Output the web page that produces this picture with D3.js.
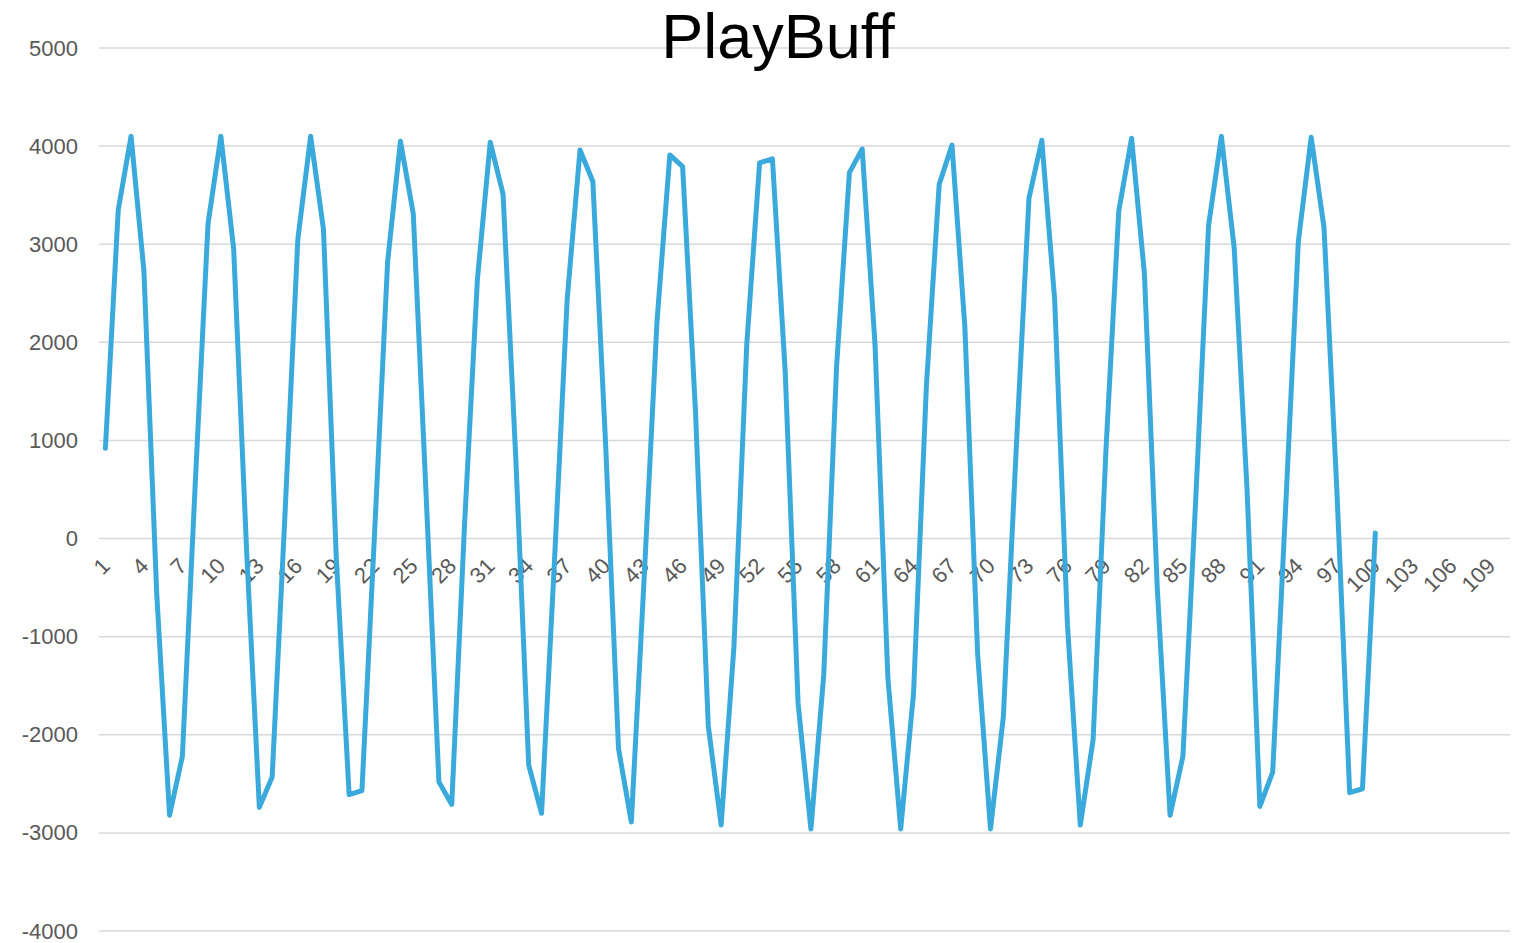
<!DOCTYPE html>
<html>
<head>
<meta charset="utf-8">
<script src="https://cdn.jsdelivr.net/npm/d3@7/dist/d3.min.js"></script>
<style>
  html, body { margin: 0; padding: 0; background: #ffffff; }
  svg { display: block; }
</style>
</head>
<body>
<svg id="chart" width="1522" height="943"></svg>
<script>
const chartTitle = "PlayBuff";
const categories = d3.range(1, 111);
const seriesValues = [
  920, 3350, 4100, 2730, -560, -2820, -2220, 550, 3210, 4100,
  2950, -100, -2740, -2430, 250, 3050, 4100, 3150, -200, -2610,
  -2570, 100, 2820, 4050, 3310, 450, -2480, -2710, 150, 2640,
  4040, 3510, 800, -2310, -2800, -250, 2440, 3960, 3640, 950,
  -2140, -2890, -400, 2210, 3910, 3790, 1300, -1910, -2920, -1100,
  1980, 3830, 3870, 1690, -1680, -2960, -1390, 1750, 3730, 3970,
  1970, -1420, -2960, -1580, 1550, 3610, 4010, 2160, -1180, -2960,
  -1820, 900, 3470, 4060, 2440, -880, -2920, -2050, 900, 3340,
  4080, 2700, -500, -2820, -2220, 400, 3190, 4100, 2960, 500,
  -2730, -2380, 290, 3030, 4090, 3170, 500, -2590, -2550, 56
];
const yTicks = [-4000, -3000, -2000, -1000, 0, 1000, 2000, 3000, 4000, 5000];
const xTickLabels = categories.filter((c, i) => i % 3 === 0);

const svg = d3.select("#chart");
const plotLeft = 99, plotRight = 1510, plotTop = 48, plotBottom = 931;

const x = d3.scaleBand().domain(categories).range([plotLeft, plotRight]).padding(0);
const y = d3.scaleLinear().domain([-4000, 5000]).range([plotBottom, plotTop]);
const cx = c => x(c) + x.bandwidth() / 2;

// gridlines
svg.append("g")
  .selectAll("line")
  .data(yTicks)
  .join("line")
  .attr("x1", plotLeft).attr("x2", plotRight)
  .attr("y1", d => y(d)).attr("y2", d => y(d))
  .attr("stroke", "#d9d9d9").attr("stroke-width", 1.5);

// y axis labels
const yAxis = d3.axisLeft(y).tickValues(yTicks).tickSize(0).tickPadding(0)
  .tickFormat(d => String(d));
const gy = svg.append("g").attr("transform", `translate(78,0)`).call(yAxis);
gy.select(".domain").remove();
gy.selectAll("text")
  .attr("fill", "#595959")
  .style("font-family", "Liberation Sans, Arial, sans-serif")
  .style("font-size", "22px");

// x axis labels (rotated)
svg.append("g")
  .selectAll("text")
  .data(xTickLabels)
  .join("text")
  .attr("transform", d => `translate(${cx(d) - 5},${y(0) + 18}) rotate(-45)`)
  .attr("text-anchor", "end")
  .attr("dy", "0.7em")
  .attr("fill", "#595959")
  .style("font-family", "Liberation Sans, Arial, sans-serif")
  .style("font-size", "22px")
  .text(d => d);

// line
const line = d3.line()
  .x((d, i) => cx(categories[i]))
  .y(d => y(d));
svg.append("path")
  .datum(seriesValues)
  .attr("d", line)
  .attr("fill", "none")
  .attr("stroke", "#3aa9dc")
  .attr("stroke-width", 5)
  .attr("stroke-linejoin", "round")
  .attr("stroke-linecap", "round");

// title
svg.append("text")
  .attr("x", 778).attr("y", 58)
  .attr("text-anchor", "middle")
  .attr("fill", "#000000")
  .style("font-family", "Liberation Sans, Arial, sans-serif")
  .style("font-size", "63px")
  .text(chartTitle);
</script>
</body>
</html>
